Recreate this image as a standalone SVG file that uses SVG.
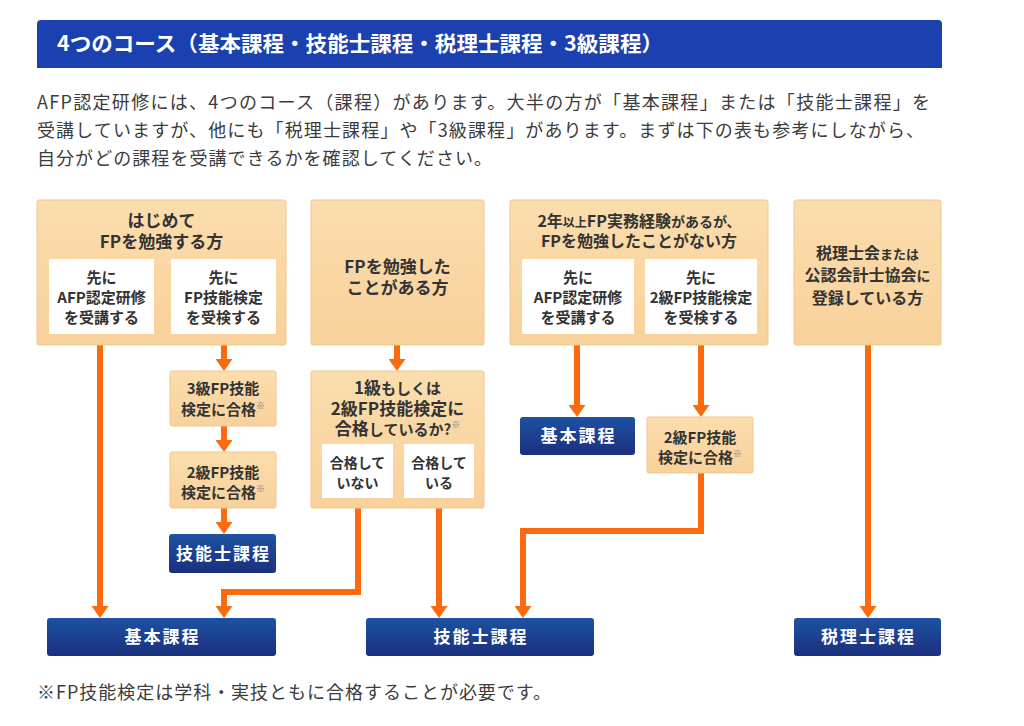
<svg xmlns="http://www.w3.org/2000/svg" width="1024" height="726" viewBox="0 0 1024 726">
<defs>
<linearGradient id="gOr" x1="0" y1="0" x2="0" y2="1"><stop offset="0" stop-color="#fbddad"/><stop offset="1" stop-color="#f8d19b"/></linearGradient>
<linearGradient id="gBl" x1="0" y1="0" x2="0" y2="1"><stop offset="0" stop-color="#1d52a2"/><stop offset="1" stop-color="#1b2f7e"/></linearGradient>
<marker id="ah" markerUnits="userSpaceOnUse" markerWidth="12" markerHeight="17" viewBox="0 0 12 17" refX="1" refY="8.5" orient="auto"><path d="M0,0 L12,8.5 L0,17 z" fill="#fb6a0c"/></marker>
<style>
.or{fill:url(#gOr);stroke:#f2c68c;stroke-width:1}
.wh{fill:#ffffff}
.bl{fill:url(#gBl)}
.t{font-family:"Noto Sans CJK JP","Noto Sans",sans-serif;font-weight:700;fill:#333333;text-anchor:middle}
.s17{font-size:17px}
.s16{font-size:16px}
.s15{font-size:15px}
.s14{font-size:14px}
.bt{font-family:"Noto Sans CJK JP","Noto Sans",sans-serif;font-weight:700;fill:#ffffff;text-anchor:middle;font-size:17px;letter-spacing:2px}
.p{font-family:"Noto Sans CJK JP","Noto Sans",sans-serif;font-size:18px;fill:#3c3c3c}
.ln{fill:none;stroke:#fb6a0c;stroke-width:6;stroke-linejoin:miter;marker-end:url(#ah)}
.ast{font-size:9px;fill:#777777}
</style>
</defs>
<rect width="1024" height="726" fill="#ffffff"/>

<g id="header">
<path d="M37,68 V24 Q37,20 41,20 H938 Q942,20 942,24 V68 Z" fill="#1b40b0"/>
<text x="57" y="51" font-family="'Noto Sans CJK JP','Noto Sans',sans-serif" font-weight="700" font-size="21" fill="#ffffff" textLength="606" lengthAdjust="spacingAndGlyphs">4つのコース（基本課程・技能士課程・税理士課程・3級課程）</text>
</g>

<g id="intro">
<text class="p" x="37" y="109" textLength="893" lengthAdjust="spacing">AFP認定研修には、4つのコース（課程）があります。大半の方が「基本課程」または「技能士課程」を</text>
<text class="p" x="37" y="137" textLength="887" lengthAdjust="spacing">受講していますが、他にも「税理士課程」や「3級課程」があります。まずは下の表も参考にしながら、</text>
<text class="p" x="37" y="165" textLength="455" lengthAdjust="spacing">自分がどの課程を受講できるかを確認してください。</text>
</g>

<g id="connectors">
<path class="ln" d="M100,345 V607"/>
<path class="ln" d="M224,345 V360"/>
<path class="ln" d="M224,426 V441"/>
<path class="ln" d="M224,508 V523"/>
<path class="ln" d="M397,345 V360"/>
<path class="ln" d="M358,508 V592 H224 V607"/>
<path class="ln" d="M439,508 V607"/>
<path class="ln" d="M577,345 V406"/>
<path class="ln" d="M701,345 V406"/>
<path class="ln" d="M701,473 V531 H523 V607"/>
<path class="ln" d="M868,345 V607"/>
</g>

<g id="nodeA">
<rect class="or" x="37" y="200" width="249" height="145" rx="2"/>
<text class="t s17" x="161.5" y="227">はじめて<tspan x="161.5" dy="21">FPを勉強する方</tspan></text>
<rect class="wh" x="49" y="259" width="105" height="75"/>
<text class="t s15" x="101.5" y="283">先に<tspan x="101.5" dy="20">AFP認定研修</tspan><tspan x="101.5" dy="20">を受講する</tspan></text>
<rect class="wh" x="171" y="259" width="105" height="75"/>
<text class="t s15" x="223.5" y="283">先に<tspan x="223.5" dy="20">FP技能検定</tspan><tspan x="223.5" dy="20">を受検する</tspan></text>
</g>

<g id="nodeB">
<rect class="or" x="311" y="200" width="173" height="145" rx="2"/>
<text class="t s17" x="397.5" y="273">FPを勉強した<tspan x="397.5" dy="21">ことがある方</tspan></text>
</g>

<g id="nodeC">
<rect class="or" x="510" y="200" width="258" height="145" rx="2"/>
<text class="t s16" x="639" y="227">2年<tspan font-size="12">以上</tspan>FP実務経験<tspan font-size="14">があるが、</tspan><tspan x="639" dy="20">FPを勉強したことがない方</tspan></text>
<rect class="wh" x="522" y="259" width="112" height="75"/>
<text class="t s15" x="578" y="283">先に<tspan x="578" dy="20">AFP認定研修</tspan><tspan x="578" dy="20">を受講する</tspan></text>
<rect class="wh" x="645" y="259" width="112" height="75"/>
<text class="t s15" x="701" y="283">先に<tspan x="701" dy="20">2級FP技能検定</tspan><tspan x="701" dy="20">を受検する</tspan></text>
</g>

<g id="nodeD">
<rect class="or" x="794" y="200" width="147" height="145" rx="2"/>
<text class="t s16" x="867.5" y="259">税理士会<tspan font-size="13">または</tspan><tspan x="867.5" dy="22">公認会計士協会</tspan><tspan font-size="14">に</tspan><tspan x="867.5" dy="23">登録している方</tspan></text>
</g>

<g id="node3kyu">
<rect class="or" x="170" y="371" width="106" height="55" rx="2"/>
<text class="t s15" x="223" y="394">3級FP技能<tspan x="223" dy="21">検定に合格</tspan><tspan class="ast" dy="-6">※</tspan></text>
</g>

<g id="node2kyuA">
<rect class="or" x="170" y="452" width="106" height="56" rx="2"/>
<text class="t s15" x="223" y="478">2級FP技能<tspan x="223" dy="20">検定に合格</tspan><tspan class="ast" dy="-6">※</tspan></text>
</g>

<g id="nodeSkillSmall">
<rect class="bl" x="169" y="534" width="107" height="39" rx="3"/>
<text class="bt" x="223.5" y="560" letter-spacing="1">技能士課程</text>
</g>

<g id="node1kyu">
<rect class="or" x="311" y="371" width="173" height="137" rx="2"/>
<text class="t s17" x="397.5" y="394">1級<tspan font-size="15">もしくは</tspan><tspan x="397.5" dy="21">2級FP技能検定に</tspan><tspan x="397.5" dy="20">合格</tspan><tspan font-size="15">しているか?</tspan><tspan class="ast" dy="-7">※</tspan></text>
<rect class="wh" x="322" y="444" width="71" height="54"/>
<text class="t s14" x="357.5" y="468">合格して<tspan x="357.5" dy="20">いない</tspan></text>
<rect class="wh" x="404" y="444" width="70" height="54"/>
<text class="t s14" x="439" y="468">合格して<tspan x="439" dy="20">いる</tspan></text>
</g>

<g id="nodeBasicSmall">
<rect class="bl" x="520" y="417" width="115" height="38" rx="3"/>
<text class="bt" x="578.5" y="442">基本課程</text>
</g>

<g id="node2kyuC">
<rect class="or" x="647" y="417" width="106" height="56" rx="2"/>
<text class="t s15" x="700" y="443">2級FP技能<tspan x="700" dy="20">検定に合格</tspan><tspan class="ast" dy="-6">※</tspan></text>
</g>

<g id="nodeBasic">
<rect class="bl" x="47" y="618" width="229" height="38" rx="3"/>
<text class="bt" x="162.5" y="643">基本課程</text>
</g>

<g id="nodeSkill">
<rect class="bl" x="366" y="618" width="228" height="38" rx="3"/>
<text class="bt" x="481" y="643">技能士課程</text>
</g>

<g id="nodeTax">
<rect class="bl" x="794" y="618" width="147" height="38" rx="3"/>
<text class="bt" x="868.5" y="643">税理士課程</text>
</g>

<g id="footnote">
<text class="p" x="37" y="699" textLength="514" lengthAdjust="spacing">※FP技能検定は学科・実技ともに合格することが必要です。</text>
</g>
</svg>
